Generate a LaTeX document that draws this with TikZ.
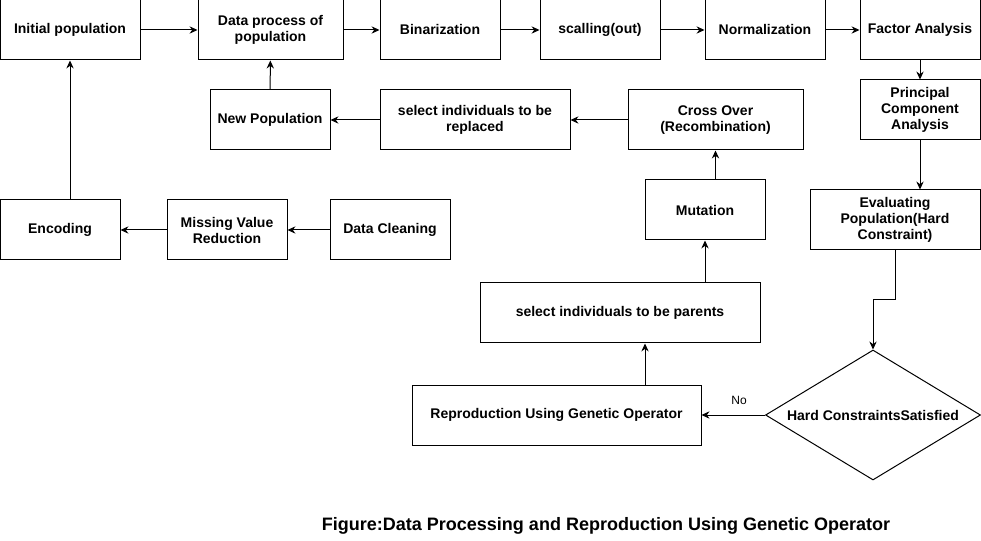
\documentclass[tikz,border=0pt]{standalone}
\usepackage{fontspec}
\setmainfont{Liberation Sans}
\usetikzlibrary{shapes.geometric,arrows.meta}
\begin{document}
\begin{tikzpicture}[x=0.75pt,y=-0.75pt,
  box/.style={draw=black,line width=0.75pt,rectangle,inner sep=2pt,align=center,
    minimum height=45pt,font=\fontsize{10.5}{12}\selectfont\bfseries},
  arr/.style={draw=black,line width=0.75pt,-{Stealth[length=6pt,width=5.5pt,inset=2pt]}},
  ln/.style={draw=black,line width=0.75pt}]
\useasboundingbox (0,0) rectangle (981,541);
% row 1
\node[box,minimum width=105pt] (init) at (70,30) {Initial population};
\node[box,minimum width=108.75pt] (dproc) at (270.5,30) {Data process of\\population};
\node[box,minimum width=90pt] (bin) at (440,30) {Binarization};
\node[box,minimum width=90pt] (scal) at (600,30) {scalling(out)};
\node[box,minimum width=90pt] (norm) at (765,30) {Normalization};
\node[box,minimum width=90pt] (fact) at (920,30) {Factor Analysis};
% row 2
\node[box,minimum width=90pt] (newpop) at (270,120) {New Population};
\node[box,minimum width=142.5pt] (selrep) at (475,120) {select individuals to be\\replaced};
\node[box,minimum width=131.25pt] (cross) at (715.5,120) {Cross Over\\(Recombination)};
\node[box,minimum width=90pt] (pca) at (920,110) {Principal\\Component\\Analysis};
% middle
\node[box,minimum width=90pt] (mut) at (705,210) {Mutation};
\node[box,minimum width=127.5pt] (eval) at (895,220) {Evaluating\\Population(Hard\\Constraint)};
\node[box,minimum width=90pt] (enc) at (60,230) {Encoding};
\node[box,minimum width=90pt] (miss) at (227,230) {Missing Value\\Reduction};
\node[box,minimum width=90pt] (clean) at (390,230) {Data Cleaning};
% bottom
\node[box,minimum width=210pt] (selpar) at (620,313) {select individuals to be parents};
\node[box,minimum width=216.75pt] (repro) at (556.5,415) {Reproduction Using Genetic Operator};
\node[draw=black,line width=0.75pt,diamond,aspect=1.65,inner sep=0pt,
  minimum width=161.25pt,minimum height=97.5pt,
  font=\fontsize{10.5}{12}\selectfont\bfseries] (dia) at (873,415) {Hard ConstraintsSatisfied};
\node[font=\fontsize{9}{11}\selectfont] (no) at (739,400) {No};
\node[font=\fontsize{13.5}{16}\selectfont\bfseries] (cap) at (606,526)
  {Figure:Data Processing and Reproduction Using Genetic Operator};
% connectors
\draw[arr] (init) -- (dproc);
\draw[arr] (dproc) -- (bin);
\draw[arr] (bin) -- (scal);
\draw[arr] (scal) -- (norm);
\draw[arr] (norm) -- (fact);
\draw[arr] (fact) -- (pca);
\draw[arr] (pca.south) -- (pca.south |- eval.north);
\coordinate (bend) at (873,300);
\draw[arr] (eval.south) |- (bend) -- (dia.north);
\draw[arr] (dia.west) -- (repro.east);
\coordinate (rp) at (645,0);
\draw[arr] (repro.north -| rp) -- (selpar.south -| rp);
\draw[arr] (selpar.north -| mut.south) -- (mut.south);
\draw[arr] (mut.north -| cross.south) -- (cross.south);
\draw[arr] (cross) -- (selrep);
\draw[arr] (selrep) -- (newpop);
\draw[arr] (newpop) -- (dproc);
\draw[arr] (clean) -- (miss);
\draw[arr] (miss) -- (enc);
\draw[arr] (enc.north -| init.south) -- (init.south);
\end{tikzpicture}
\end{document}
